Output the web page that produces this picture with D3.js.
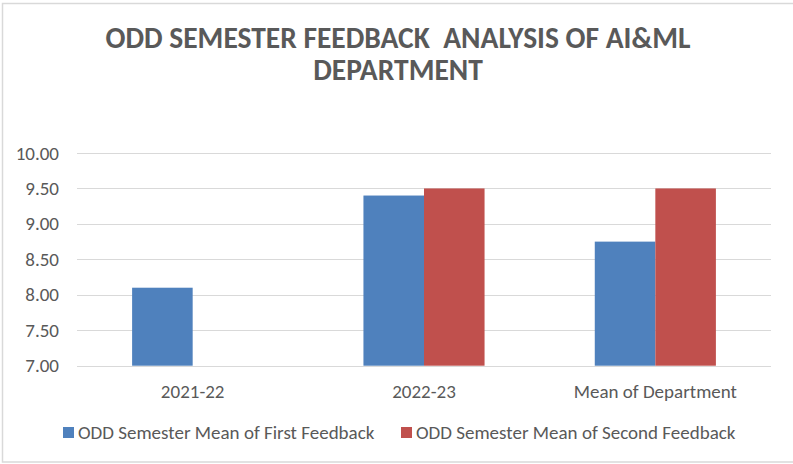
<!DOCTYPE html>
<html>
<head>
<meta charset="utf-8">
<script src="https://cdn.jsdelivr.net/npm/d3@7"></script>
<style>
  body { margin: 0; background: #fff; }
  svg text { font-family: Carlito, Calibri, "Liberation Sans Narrow", "Open Sans", sans-serif; fill: #595959; white-space: pre; }
</style>
</head>
<body>
<svg id="chart" width="793" height="464"></svg>
<script>
// chart data
var categories = ["2021-22", "2022-23", "Mean of Department"];
var seriesNames = ["ODD Semester Mean of First Feedback", "ODD Semester Mean of Second Feedback"];
var firstFeedback = [8.10, 9.40, 8.75];
var secondFeedback = [null, 9.50, 9.50];
var yTicks = [7.0, 7.5, 8.0, 8.5, 9.0, 9.5, 10.0];
var colors = ["#4f81bd", "#c0504d"];
var titleLines = ["ODD SEMESTER FEEDBACK  ANALYSIS OF AI&ML", "DEPARTMENT"];

var svg = d3.select("#chart");

// outer frame
svg.append("rect")
    .attr("x", 2.5).attr("y", 3.5)
    .attr("width", 820).attr("height", 458.5)
    .attr("fill", "none")
    .attr("stroke", "#d9d9d9")
    .attr("stroke-width", 1.5);

var plotLeft = 77, plotRight = 771, plotTop = 153, plotBottom = 365.7;

var x = d3.scaleBand()
    .domain(categories)
    .range([plotLeft, plotRight]);

var xSub = d3.scaleBand()
    .domain(seriesNames)
    .range([0, x.bandwidth()])
    .paddingOuter(0.91);

var y = d3.scaleLinear()
    .domain([7, 10])
    .range([plotBottom, plotTop]);

// gridlines
svg.append("g")
    .selectAll("line")
    .data(yTicks)
    .enter().append("line")
    .attr("x1", plotLeft).attr("x2", plotRight)
    .attr("y1", function(d) { return Math.round(y(d)) + 0.5; })
    .attr("y2", function(d) { return Math.round(y(d)) + 0.5; })
    .attr("stroke", "#d9d9d9")
    .attr("stroke-width", 1);

// y axis labels
var yAxis = svg.append("g")
    .attr("transform", "translate(" + plotLeft + ",0)")
    .call(d3.axisLeft(y).tickValues(yTicks).tickFormat(d3.format(".2f")).tickSize(0).tickPadding(18));
yAxis.select(".domain").remove();
yAxis.selectAll("text")
    .style("font-size", "19px")
    .attr("fill", "#595959");

// bars
var rows = categories.map(function(c, i) {
    return { cat: c, values: [firstFeedback[i], secondFeedback[i]] };
});

var groups = svg.append("g")
    .selectAll("g")
    .data(rows)
    .enter().append("g")
    .attr("transform", function(d) { return "translate(" + x(d.cat) + ",0)"; });

groups.selectAll("rect")
    .data(function(d) {
        return d.values.map(function(v, j) { return { s: seriesNames[j], v: v, j: j }; })
            .filter(function(e) { return e.v != null; });
    })
    .enter().append("rect")
    .attr("x", function(d) { return xSub(d.s); })
    .attr("width", xSub.bandwidth())
    .attr("y", function(d) { return y(d.v); })
    .attr("height", function(d) { return y(7) - y(d.v); })
    .attr("fill", function(d) { return colors[d.j]; });

// x axis labels
var xAxis = svg.append("g")
    .attr("transform", "translate(0," + plotBottom + ")")
    .call(d3.axisBottom(x).tickSize(0).tickPadding(19));
xAxis.select(".domain").remove();
xAxis.selectAll("text")
    .style("font-size", "19px")
    .attr("fill", "#595959");

// title
svg.append("g")
    .selectAll("text")
    .data(titleLines)
    .enter().append("text")
    .attr("x", 398)
    .attr("y", function(d, i) { return 48 + i * 32; })
    .attr("text-anchor", "middle")
    .style("font-size", "29.5px")
    .style("font-weight", "bold")
    .text(function(d) { return d; });

// legend
var legendX = [63, 401];
var legend = svg.append("g")
    .selectAll("g")
    .data(seriesNames)
    .enter().append("g")
    .attr("transform", function(d, i) { return "translate(" + legendX[i] + ",427)"; });

legend.append("rect")
    .attr("width", 11).attr("height", 11)
    .attr("fill", function(d, i) { return colors[i]; });

legend.append("text")
    .attr("x", 15)
    .attr("y", 11.5)
    .style("font-size", "19px")
    .text(function(d) { return d; });
</script>
</body>
</html>
